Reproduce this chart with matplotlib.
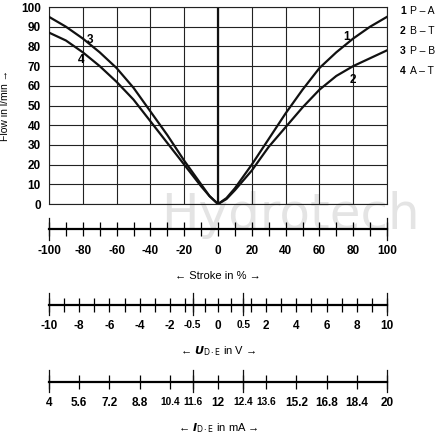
import matplotlib
matplotlib.use('Agg')
import matplotlib.pyplot as plt
import numpy as np

plt.rcParams['font.family'] = ['Liberation Sans Narrow', 'Liberation Sans', 'DejaVu Sans']

# curve data: stroke in %, flow in l/min
stroke_pos = [0, 5, 10, 20, 30, 40, 50, 60, 70, 80, 90, 100]
flow_1 = [0, 3, 8, 20, 33, 46, 58, 69, 77, 84, 90, 95]   # P-A
flow_2 = [0, 2.5, 7, 17, 29, 39, 49, 58, 65, 70, 74, 78]   # B-T
stroke_neg = [0, -5, -10, -20, -30, -40, -50, -60, -70, -80, -90, -100]
flow_3 = [0, 4, 10, 22, 35, 47, 59, 69, 77, 84, 90, 95]  # P-B
flow_4 = [0, 4, 9, 20, 31, 42, 53, 62, 70, 77, 83, 87]   # A-T

legend_items = [('1', 'P – A'), ('2', 'B – T'), ('3', 'P – B'), ('4', 'A – T')]

volt_labels = [-10, -8, -6, -4, -2, -0.5, 0, 0.5, 2, 4, 6, 8, 10]
volt_minor = [-9, -7, -5, -3, -1, -0.25, 0.25, 1, 3, 5, 7, 9]
amp_labels = ['4', '5.6', '7.2', '8.8', '10.4', '11.6', '12', '12.4', '13.6', '15.2', '16.8', '18.4', '20']
small_labels = {'-0.5', '0.5', '10.4', '11.6', '12.4', '13.6'}

W, H = 445, 436
fig = plt.figure(figsize=(W / 100, H / 100), dpi=100)


def rect(l, t, r, b):
    return [l / W, 1 - b / H, (r - l) / W, (b - t) / H]


def volt_to_stroke(v):
    a = abs(v)
    if a <= 0.5:
        s = a / 0.5 * 15
    else:
        s = 15 + (a - 0.5) / 9.5 * 85
    return np.sign(v) * s


# watermark
fig.text(290 / W, 1 - 215 / H, 'Hydrotech', fontsize=36, color='#e4e4e4', ha='center', va='center',
         family='DejaVu Sans', zorder=-5)

ax = fig.add_axes(rect(49, 7, 387, 204))
ax.set_zorder(2)
ax.set_xlim(-100, 100)
ax.set_ylim(0, 100)
for x in range(-100, 101, 20):
    ax.axvline(x, color='#222', lw=0.8, zorder=1)
for y in range(0, 101, 10):
    ax.axhline(y, color='#222', lw=0.8, zorder=1)
ax.axvline(0, color='#111', lw=1.6, zorder=2)
for xs, ys in [(stroke_pos, flow_1), (stroke_pos, flow_2), (stroke_neg, flow_3), (stroke_neg, flow_4)]:
    ax.plot(xs, ys, color='#111', lw=1.6, zorder=3)
ax.set_xticks([])
ax.set_yticks(range(0, 101, 10))
ax.tick_params(axis='y', length=0, pad=6, labelsize=8.5)
for lab in ax.get_yticklabels():
    lab.set_fontweight('bold')
for s in ax.spines.values():
    s.set_color('#222')
    s.set_linewidth(0.8)
ax.set_ylabel('Flow in l/min →', fontsize=7.5, labelpad=8)
ax.patch.set_alpha(0)

# curve numbers
for txt, (x, y) in zip(['1', '2', '3', '4'], [(76, 85), (80, 63), (-76, 83), (-81, 73)]):
    ax.text(x, y, txt, fontsize=8.5, fontweight='bold', ha='center', va='center')

# legend
for i, (n, name) in enumerate(legend_items):
    yy = 11 + i * 20
    fig.text(400 / W, 1 - yy / H, n, fontsize=7.5, fontweight='bold', va='center')
    fig.text(410 / W, 1 - yy / H, name, fontsize=7.5, va='center')


def scale_axis(top, major, labels, minor, long_ticks, label):
    a = fig.add_axes(rect(49, top, 387, top + 1))
    a.set_xlim(-100, 100)
    a.set_ylim(0, 1)
    a.patch.set_alpha(0)
    for k in ['top', 'left', 'right']:
        a.spines[k].set_visible(False)
    a.spines['bottom'].set_linewidth(1.6)
    a.spines['bottom'].set_position(('data', 0.5))
    a.set_yticks([])
    a.set_xticks(major)
    a.set_xticklabels(labels, fontsize=8.5, fontweight='bold')
    for lab in a.get_xticklabels():
        if lab.get_text() in small_labels:
            lab.set_fontsize(7.3)
    a.set_xticks(minor, minor=True)
    a.tick_params(axis='x', which='both', direction='inout', length=10, width=0.9, pad=6)
    for lx in long_ticks:
        a.plot([lx, lx], [-10, 12], color='#111', lw=0.9, clip_on=False)
    a.text(0, -46, label, fontsize=8, ha='center', va='center', transform=a.transData)
    return a


scale_axis(229, list(range(-100, 101, 20)), [str(v) for v in range(-100, 101, 20)],
           list(range(-90, 100, 20)), [-100, 100], '← Stroke in % →')

vpos = [volt_to_stroke(v) for v in volt_labels]
scale_axis(304, vpos, [('%g' % v) for v in volt_labels],
           [volt_to_stroke(v) for v in volt_minor], [volt_to_stroke(-0.5), volt_to_stroke(0.5), -100, 100],
           r'← $\boldsymbol{U}_{\mathrm{D\cdot E}}$ in V →')

scale_axis(381, vpos, amp_labels, [], [volt_to_stroke(-0.5), volt_to_stroke(0.5), -100, 100],
           r'← $\boldsymbol{I}_{\mathrm{D\cdot E}}$ in mA →')

fig.savefig('out.png', dpi=100)
